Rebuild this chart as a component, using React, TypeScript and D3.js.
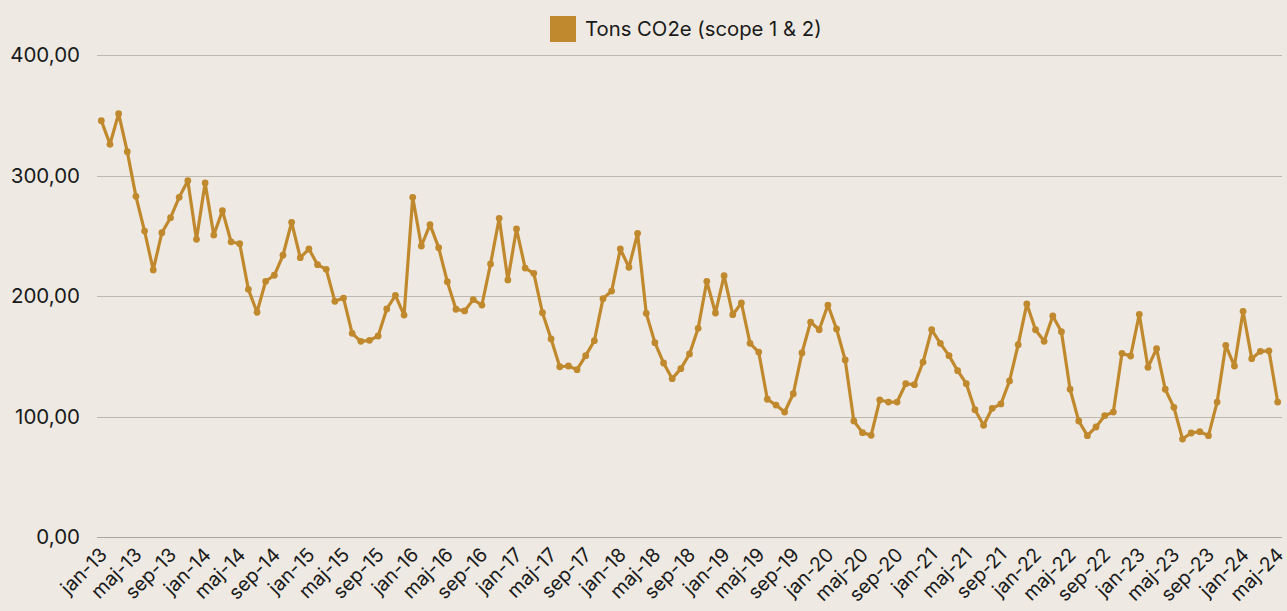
import React from "react";
import * as d3 from "d3";

const seriesName = "Tons CO2e (scope 1 & 2)";
const monthNames = ["jan", "feb", "mar", "apr", "maj", "jun", "jul", "aug", "sep", "okt", "nov", "dec"];
const startYear = 13;
const values: number[] = [
  345.5, 325.9, 351.3, 319.8, 282.7, 253.9, 221.6, 252.5, 265.0, 281.9, 295.7, 247.0,
  293.8, 250.6, 270.8, 245.0, 243.4, 205.5, 186.5, 212.2, 217.2, 233.8, 261.1, 231.8,
  239.0, 226.0, 222.1, 195.6, 198.3, 169.0, 162.4, 163.2, 166.8, 189.2, 200.6, 184.2,
  281.9, 241.5, 259.2, 240.1, 211.9, 189.0, 187.6, 197.0, 192.5, 226.6, 264.5, 213.3,
  255.6, 223.2, 218.8, 186.1, 164.3, 141.3, 141.9, 138.9, 150.5, 162.9, 197.8, 204.1,
  239.0, 223.8, 252.0, 185.6, 161.3, 144.4, 131.4, 139.7, 151.9, 173.2, 212.2, 185.9,
  216.9, 184.5, 194.2, 160.7, 153.5, 114.3, 109.5, 103.7, 118.9, 152.7, 178.4, 172.0,
  192.5, 172.6, 146.9, 96.3, 86.6, 84.4, 113.7, 112.0, 112.0, 127.2, 126.4, 145.2,
  172.0, 160.7, 150.5, 138.0, 127.2, 105.6, 92.7, 106.8, 110.4, 129.5, 159.6, 193.4,
  172.0, 162.4, 183.4, 170.4, 122.6, 96.3, 84.1, 91.3, 100.7, 103.7, 152.4, 150.2,
  184.8, 140.8, 156.3, 122.6, 107.6, 81.3, 86.3, 87.4, 84.1, 112.0, 159.1, 141.9,
  187.3, 148.0, 154.1, 154.4, 112.0,
];
const categories: string[] = values.map((_, i) => {
  const y = startYear + Math.floor(i / 12);
  return `${monthNames[i % 12]}-${y}`;
});
const yTicks = [0, 100, 200, 300, 400];

const W = 1287;
const H = 611;
const left = 97;
const right = 1282;
const top = 55;
const bottom = 537;
const color = "#C1892E";
const font = "Inter, 'Open Sans', sans-serif";

export default function App() {
  const x = d3.scaleBand<string>().domain(categories).range([left, right]).paddingInner(0).paddingOuter(0);
  const y = d3.scaleLinear().domain([0, 400]).range([bottom, top]);
  const cx = (c: string) => (x(c) as number) + x.bandwidth() / 2;
  const line = d3
    .line<number>()
    .x((_, i) => cx(categories[i]))
    .y((d) => y(d));
  const fmt = (v: number) => v.toFixed(2).replace(".", ",");

  return (
    <svg
      width={W}
      height={H}
      style={{ position: "absolute", left: 0, top: 0, background: "#EEEAE3" }}
      fontFamily={font}
    >
      <rect x={0} y={0} width={W} height={H} fill="#EEEAE3" />
      {yTicks.map((t) => (
        <g key={t}>
          <line
            x1={left}
            x2={right}
            y1={Math.round(y(t)) + 0.5}
            y2={Math.round(y(t)) + 0.5}
            stroke={t === 0 ? "#A9A59F" : "#BDB9B2"}
            strokeWidth={1.2}
          />
          <text x={80} y={y(t)} dy="0.35em" textAnchor="end" fontSize={20.5} fill="#1a1a1a">
            {fmt(t)}
          </text>
        </g>
      ))}
      {categories.map((c, i) =>
        i % 4 === 0 ? (
          <text
            key={c}
            transform={`translate(${cx(c) + 7},${556}) rotate(-45)`}
            textAnchor="end"
            fontSize={19.5}
            fill="#1a1a1a"
          >
            {c}
          </text>
        ) : null
      )}
      <path d={line(values) || ""} fill="none" stroke={color} strokeWidth={3.2} strokeLinejoin="round" />
      {values.map((v, i) => (
        <circle key={i} cx={cx(categories[i])} cy={y(v)} r={3.4} fill={color} />
      ))}
      <rect x={550} y={16} width={26} height={26} fill={color} />
      <text x={585} y={35.5} fontSize={20.3} fill="#1a1a1a">
        {seriesName}
      </text>
    </svg>
  );
}
